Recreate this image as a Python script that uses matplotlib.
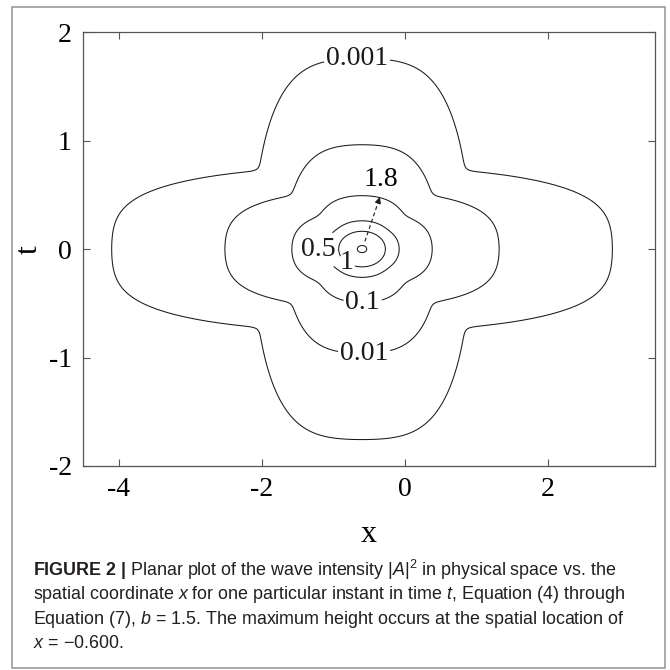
import numpy as np
import matplotlib
matplotlib.use("Agg")
import matplotlib.pyplot as plt
from matplotlib.patches import Rectangle

# contour levels of |A|^2 and how they are printed
levels = [0.001, 0.01, 0.1, 0.5, 1.0, 1.8]
level_text = ["0.001", "0.01", "0.1", "0.5", "1", "1.8"]

# inline label spots (x, t) for the first five levels
label_spots = [(-0.67, 1.73), (-0.57, -0.99), (-0.59, -0.53), (-1.23, -0.01), (-0.80, -0.11)]

# intensity surface, b = 1.5: peak height and location, widths, arm shape
peak = 1.85
x_peak, t_peak = -0.600, 0.0
x_width, t_width = 0.54, 0.271
arm_k = 0.55
blend_p = 10.0

x_ticks = [-4, -2, 0, 2]
t_ticks = [-2, -1, 0, 1, 2]

caption = [
    r"$\mathbf{FIGURE\ 2\ |}$ Planar plot of the wave intensity $|A|^2$ in physical space vs. the",
    r"spatial coordinate $x$ for one particular instant in time $t$, Equation (4) through",
    r"Equation (7), $b$ = 1.5. The maximum height occurs at the spatial location of",
    r"$x$ = −0.600.",
]

plt.rcParams["font.family"] = ["Liberation Serif", "DejaVu Serif"]
plt.rcParams["axes.unicode_minus"] = False
plt.rcParams["mathtext.fontset"] = "custom"
plt.rcParams["mathtext.rm"] = "Liberation Sans"
plt.rcParams["mathtext.it"] = "Liberation Sans:italic"
plt.rcParams["mathtext.bf"] = "Liberation Sans:bold"

# grid and field
x = np.linspace(-4.5, 3.5, 1201)
t = np.linspace(-2.0, 2.0, 801)
X, T = np.meshgrid(x, t)
u = (X - x_peak) / x_width
v = (T - t_peak) / t_width
r2 = u**2 + v**2 + 1e-9
q1 = r2 + arm_k * v**4   # horizontal arm
q2 = r2 + arm_k * u**4   # vertical arm
q = (q1**-blend_p + q2**-blend_p) ** (-1.0 / blend_p)
intensity = peak / (1.0 + q) ** 2

fig = plt.figure(figsize=(6.7, 6.7), dpi=100)
ax = fig.add_axes([0.124, 0.3045, 0.854, 0.6475])

cs = ax.contour(X, T, intensity, levels=levels, colors="#1a1a1a", linewidths=0.75)
fmt = dict(zip(levels, level_text))
labels = ax.clabel(cs, levels[:-1], fmt=fmt, fontsize=20, manual=label_spots,
                   inline=True, inline_spacing=2)
for lab in labels:
    lab.set_rotation(0)
    if lab.get_text() == "0.5":
        px, py = lab.get_position()
        lab.set_position((px - 0.09, py))

# label of the top contour, pointed to with a dashed arrow
ax.plot([-0.56, -0.37], [0.07, 0.44], ls=(0, (3.5, 2.5)), lw=0.8, color="#1a1a1a")
ax.annotate("", xy=(-0.35, 0.48), xytext=(-0.37, 0.44),
            arrowprops=dict(arrowstyle="-|>", color="#1a1a1a", lw=0.8, mutation_scale=9))
ax.text(-0.33, 0.64, level_text[-1], fontsize=20, ha="center", va="center")

ax.set_xlim(-4.5, 3.5)
ax.set_ylim(-2, 2)
ax.set_xticks(x_ticks)
ax.set_yticks(t_ticks)
ax.tick_params(direction="in", top=True, right=True, length=5, width=0.8,
               color="#555555", labelsize=20, pad=8)
for s in ax.spines.values():
    s.set_color("#555555")
    s.set_linewidth(0.9)

ax.set_xlabel("x", fontsize=23)
ax.set_ylabel("t", fontsize=23)
ax.xaxis.set_label_coords(0.5, -0.125)
ax.yaxis.set_label_coords(-0.069, 0.5)

# caption block with its frame
fig.patches.append(Rectangle((0.018, 0.003), 0.975, 0.987, transform=fig.transFigure,
                             fill=False, edgecolor="#9a9a9a", lw=1.2))
for i, line in enumerate(caption):
    fig.text(0.049, 0.149 - i * 0.0365, line, fontsize=12.9, family="Liberation Sans",
             color="#231f20", va="center", ha="left")

fig.savefig("out.png", dpi=100)
